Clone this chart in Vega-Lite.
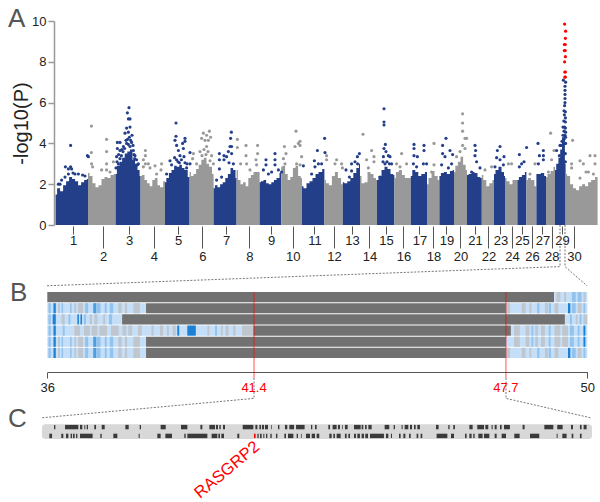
{"$schema":"https://vega.github.io/schema/vega-lite/v6.json","width":600,"height":502,"padding":0,"autosize":{"type":"none"},"background":"white","config":{"view":{"stroke":null},"font":"Liberation Sans"},
"datasets":{
"env":[
{"c":1,"g":"b","pos":3,"p":1.5},{"c":1,"g":"b","pos":18,"p":1.8},{"c":1,"g":"b","pos":33,"p":1.65},{"c":1,"g":"b","pos":48,"p":1.95},{"c":1,"g":"b","pos":63,"p":2.15},{"c":1,"g":"b","pos":78,"p":2.35},{"c":1,"g":"b","pos":93,"p":2.25},{"c":1,"g":"b","pos":108,"p":2.15},{"c":1,"g":"b","pos":123,"p":1.95},{"c":1,"g":"b","pos":138,"p":2.1},{"c":1,"g":"b","pos":153,"p":2.2},{"c":1,"g":"b","pos":165,"p":2.25},
{"c":2,"g":"a","pos":165,"p":2.55},{"c":2,"g":"a","pos":180,"p":2.4},{"c":2,"g":"a","pos":195,"p":2.05},{"c":2,"g":"a","pos":210,"p":1.85},{"c":2,"g":"a","pos":225,"p":1.95},{"c":2,"g":"a","pos":240,"p":2.25},{"c":2,"g":"a","pos":255,"p":2.35},{"c":2,"g":"a","pos":270,"p":2.3},{"c":2,"g":"a","pos":285,"p":2.45},{"c":2,"g":"a","pos":303,"p":2.5},
{"c":3,"g":"b","pos":303,"p":2.5},{"c":3,"g":"b","pos":316,"p":2.9},{"c":3,"g":"b","pos":329,"p":3.1},{"c":3,"g":"b","pos":342,"p":3.3},{"c":3,"g":"b","pos":355,"p":3.5},{"c":3,"g":"b","pos":368,"p":3.6},{"c":3,"g":"b","pos":381,"p":3.7},{"c":3,"g":"b","pos":394,"p":3.2},{"c":3,"g":"b","pos":407,"p":3.0},{"c":3,"g":"b","pos":418,"p":2.7},{"c":3,"g":"b","pos":428,"p":2.4},
{"c":4,"g":"a","pos":428,"p":2.4},{"c":4,"g":"a","pos":441,"p":2.45},{"c":4,"g":"a","pos":454,"p":2.2},{"c":4,"g":"a","pos":467,"p":2.05},{"c":4,"g":"a","pos":480,"p":1.9},{"c":4,"g":"a","pos":493,"p":2.2},{"c":4,"g":"a","pos":506,"p":2.3},{"c":4,"g":"a","pos":519,"p":1.95},{"c":4,"g":"a","pos":532,"p":1.85},{"c":4,"g":"a","pos":550,"p":2.15},
{"c":5,"g":"b","pos":550,"p":2.1},{"c":5,"g":"b","pos":563,"p":2.3},{"c":5,"g":"b","pos":576,"p":2.55},{"c":5,"g":"b","pos":589,"p":2.7},{"c":5,"g":"b","pos":602,"p":2.9},{"c":5,"g":"b","pos":615,"p":2.85},{"c":5,"g":"b","pos":628,"p":2.95},{"c":5,"g":"b","pos":641,"p":2.8},{"c":5,"g":"b","pos":654,"p":2.7},{"c":5,"g":"b","pos":673,"p":2.35},
{"c":6,"g":"a","pos":673,"p":2.6},{"c":6,"g":"a","pos":686,"p":2.4},{"c":6,"g":"a","pos":699,"p":2.5},{"c":6,"g":"a","pos":712,"p":2.75},{"c":6,"g":"a","pos":725,"p":2.95},{"c":6,"g":"a","pos":738,"p":3.2},{"c":6,"g":"a","pos":751,"p":3.3},{"c":6,"g":"a","pos":764,"p":3.0},{"c":6,"g":"a","pos":777,"p":2.85},{"c":6,"g":"a","pos":793,"p":2.5},
{"c":7,"g":"b","pos":793,"p":1.8},{"c":7,"g":"b","pos":806,"p":1.95},{"c":7,"g":"b","pos":819,"p":1.85},{"c":7,"g":"b","pos":832,"p":2.0},{"c":7,"g":"b","pos":845,"p":2.1},{"c":7,"g":"b","pos":858,"p":2.3},{"c":7,"g":"b","pos":871,"p":2.5},{"c":7,"g":"b","pos":884,"p":2.8},{"c":7,"g":"b","pos":897,"p":2.7},{"c":7,"g":"b","pos":908,"p":2.3},
{"c":8,"g":"a","pos":908,"p":2.7},{"c":8,"g":"a","pos":921,"p":2.2},{"c":8,"g":"a","pos":934,"p":2.0},{"c":8,"g":"a","pos":947,"p":2.1},{"c":8,"g":"a","pos":960,"p":1.9},{"c":8,"g":"a","pos":973,"p":2.3},{"c":8,"g":"a","pos":986,"p":2.45},{"c":8,"g":"a","pos":999,"p":2.6},{"c":8,"g":"a","pos":1012,"p":2.6},{"c":8,"g":"a","pos":1023,"p":2.6},
{"c":9,"g":"b","pos":1023,"p":2.1},{"c":9,"g":"b","pos":1036,"p":2.15},{"c":9,"g":"b","pos":1049,"p":2.2},{"c":9,"g":"b","pos":1062,"p":2.05},{"c":9,"g":"b","pos":1075,"p":2.0},{"c":9,"g":"b","pos":1088,"p":2.1},{"c":9,"g":"b","pos":1101,"p":2.2},{"c":9,"g":"b","pos":1114,"p":2.3},{"c":9,"g":"b","pos":1131,"p":2.55},
{"c":10,"g":"a","pos":1131,"p":2.85},{"c":10,"g":"a","pos":1144,"p":2.9},{"c":10,"g":"a","pos":1157,"p":2.5},{"c":10,"g":"a","pos":1170,"p":2.2},{"c":10,"g":"a","pos":1183,"p":2.35},{"c":10,"g":"a","pos":1196,"p":2.8},{"c":10,"g":"a","pos":1209,"p":2.9},{"c":10,"g":"a","pos":1222,"p":2.4},{"c":10,"g":"a","pos":1235,"p":2.3},
{"c":11,"g":"b","pos":1235,"p":1.9},{"c":11,"g":"b","pos":1250,"p":1.8},{"c":11,"g":"b","pos":1265,"p":2.05},{"c":11,"g":"b","pos":1280,"p":2.15},{"c":11,"g":"b","pos":1295,"p":2.3},{"c":11,"g":"b","pos":1310,"p":2.5},{"c":11,"g":"b","pos":1325,"p":2.6},{"c":11,"g":"b","pos":1347,"p":2.75},
{"c":12,"g":"a","pos":1347,"p":2.2},{"c":12,"g":"a","pos":1362,"p":2.05},{"c":12,"g":"a","pos":1377,"p":1.95},{"c":12,"g":"a","pos":1392,"p":2.4},{"c":12,"g":"a","pos":1407,"p":2.6},{"c":12,"g":"a","pos":1422,"p":2.3},{"c":12,"g":"a","pos":1439,"p":2.0},
{"c":13,"g":"b","pos":1439,"p":2.1},{"c":13,"g":"b","pos":1454,"p":2.05},{"c":13,"g":"b","pos":1469,"p":2.15},{"c":13,"g":"b","pos":1484,"p":2.3},{"c":13,"g":"b","pos":1499,"p":2.55},{"c":13,"g":"b","pos":1514,"p":2.8},{"c":13,"g":"b","pos":1525,"p":3.0},
{"c":14,"g":"a","pos":1525,"p":2.4},{"c":14,"g":"a","pos":1540,"p":2.05},{"c":14,"g":"a","pos":1555,"p":2.1},{"c":14,"g":"a","pos":1570,"p":2.6},{"c":14,"g":"a","pos":1585,"p":2.5},{"c":14,"g":"a","pos":1600,"p":2.3},{"c":14,"g":"a","pos":1610,"p":2.2},
{"c":15,"g":"b","pos":1610,"p":2.2},{"c":15,"g":"b","pos":1625,"p":2.4},{"c":15,"g":"b","pos":1640,"p":2.7},{"c":15,"g":"b","pos":1655,"p":2.85},{"c":15,"g":"b","pos":1670,"p":2.75},{"c":15,"g":"b","pos":1685,"p":2.5},{"c":15,"g":"b","pos":1697,"p":2.45},
{"c":16,"g":"a","pos":1697,"p":2.3},{"c":16,"g":"a","pos":1712,"p":2.6},{"c":16,"g":"a","pos":1727,"p":2.7},{"c":16,"g":"a","pos":1742,"p":2.45},{"c":16,"g":"a","pos":1757,"p":2.3},{"c":16,"g":"a","pos":1779,"p":2.3},
{"c":17,"g":"b","pos":1779,"p":2.4},{"c":17,"g":"b","pos":1794,"p":2.7},{"c":17,"g":"b","pos":1809,"p":2.6},{"c":17,"g":"b","pos":1824,"p":2.4},{"c":17,"g":"b","pos":1839,"p":2.5},{"c":17,"g":"b","pos":1860,"p":2.6},
{"c":18,"g":"a","pos":1860,"p":2.0},{"c":18,"g":"a","pos":1875,"p":2.3},{"c":18,"g":"a","pos":1890,"p":2.65},{"c":18,"g":"a","pos":1905,"p":2.4},{"c":18,"g":"a","pos":1922,"p":2.2},
{"c":19,"g":"b","pos":1922,"p":2.4},{"c":19,"g":"b","pos":1937,"p":2.55},{"c":19,"g":"b","pos":1952,"p":2.6},{"c":19,"g":"b","pos":1967,"p":2.5},{"c":19,"g":"b","pos":1982,"p":2.65},{"c":19,"g":"b","pos":1995,"p":2.7},
{"c":20,"g":"a","pos":1995,"p":2.6},{"c":20,"g":"a","pos":2008,"p":2.9},{"c":20,"g":"a","pos":2021,"p":3.1},{"c":20,"g":"a","pos":2034,"p":3.35},{"c":20,"g":"a","pos":2047,"p":2.95},{"c":20,"g":"a","pos":2060,"p":2.7},
{"c":21,"g":"b","pos":2060,"p":2.45},{"c":21,"g":"b","pos":2075,"p":2.5},{"c":21,"g":"b","pos":2090,"p":2.6},{"c":21,"g":"b","pos":2105,"p":2.55},{"c":21,"g":"b","pos":2120,"p":2.35},{"c":21,"g":"b","pos":2134,"p":2.3},
{"c":22,"g":"a","pos":2134,"p":2.45},{"c":22,"g":"a","pos":2149,"p":2.2},{"c":22,"g":"a","pos":2164,"p":1.9},{"c":22,"g":"a","pos":2179,"p":2.05},{"c":22,"g":"a","pos":2195,"p":2.2},
{"c":23,"g":"b","pos":2195,"p":2.5},{"c":23,"g":"b","pos":2210,"p":2.7},{"c":23,"g":"b","pos":2225,"p":2.85},{"c":23,"g":"b","pos":2240,"p":2.6},{"c":23,"g":"b","pos":2250,"p":2.4},
{"c":24,"g":"a","pos":2250,"p":2.3},{"c":24,"g":"a","pos":2265,"p":2.15},{"c":24,"g":"a","pos":2280,"p":2.0},{"c":24,"g":"a","pos":2295,"p":2.2},{"c":24,"g":"a","pos":2312,"p":2.2},
{"c":25,"g":"b","pos":2312,"p":2.2},{"c":25,"g":"b","pos":2327,"p":2.35},{"c":25,"g":"b","pos":2342,"p":2.45},{"c":25,"g":"b","pos":2357,"p":2.6},
{"c":26,"g":"a","pos":2357,"p":2.2},{"c":26,"g":"a","pos":2372,"p":2.3},{"c":26,"g":"a","pos":2387,"p":2.2},{"c":26,"g":"a","pos":2407,"p":1.9},
{"c":27,"g":"b","pos":2407,"p":2.5},{"c":27,"g":"b","pos":2422,"p":2.5},{"c":27,"g":"b","pos":2437,"p":2.55},{"c":27,"g":"b","pos":2455,"p":2.4},
{"c":28,"g":"a","pos":2455,"p":2.35},{"c":28,"g":"a","pos":2470,"p":2.5},{"c":28,"g":"a","pos":2485,"p":2.65},{"c":28,"g":"a","pos":2500,"p":2.85},
{"c":29,"g":"b","pos":2500,"p":2.7},{"c":29,"g":"b","pos":2512,"p":3.0},{"c":29,"g":"b","pos":2522,"p":3.3},{"c":29,"g":"b","pos":2530,"p":3.7},{"c":29,"g":"b","pos":2540,"p":4.3},{"c":29,"g":"b","pos":2546,"p":4.4},{"c":29,"g":"b","pos":2553,"p":3.0},
{"c":30,"g":"a","pos":2553,"p":2.5},{"c":30,"g":"a","pos":2568,"p":2.4},{"c":30,"g":"a","pos":2583,"p":2.0},{"c":30,"g":"a","pos":2598,"p":1.8},{"c":30,"g":"a","pos":2613,"p":1.7},{"c":30,"g":"a","pos":2628,"p":1.9},{"c":30,"g":"a","pos":2643,"p":2.0},{"c":30,"g":"a","pos":2658,"p":1.9},{"c":30,"g":"a","pos":2673,"p":2.1},{"c":30,"g":"a","pos":2688,"p":2.2},{"c":30,"g":"a","pos":2713,"p":2.35}
],
"pts":[
{"g":"b","pos":78,"p":3.9},{"g":"b","pos":52,"p":2.85},{"g":"b","pos":78,"p":2.85},{"g":"b","pos":67,"p":2.5},{"g":"b","pos":100,"p":2.5},{"g":"b","pos":117,"p":2.5},{"g":"b","pos":138,"p":2.45},{"g":"b","pos":162,"p":3.4},{"g":"b","pos":167,"p":3.35},{"g":"b","pos":33,"p":2.2},{"g":"b","pos":50,"p":2.35},{"g":"b","pos":17,"p":2.0},{"g":"b","pos":25,"p":2.0},{"g":"b","pos":83,"p":2.75},{"g":"b","pos":67,"p":2.75},{"g":"b","pos":90,"p":2.55},{"g":"b","pos":150,"p":2.4},
{"g":"a","pos":182,"p":4.85},{"g":"a","pos":182,"p":3.55},{"g":"a","pos":258,"p":4.2},{"g":"a","pos":258,"p":3.6},{"g":"a","pos":183,"p":3.0},{"g":"a","pos":188,"p":2.85},{"g":"a","pos":258,"p":3.0},{"g":"a","pos":292,"p":3.1},{"g":"a","pos":233,"p":2.7},{"g":"a","pos":258,"p":2.7},{"g":"a","pos":275,"p":2.6},
{"g":"b","pos":370,"p":5.75},{"g":"b","pos":362,"p":5.5},{"g":"b","pos":367,"p":5.2},{"g":"b","pos":375,"p":5.2},{"g":"b","pos":358,"p":4.75},{"g":"b","pos":375,"p":4.8},{"g":"b","pos":367,"p":4.55},{"g":"b","pos":350,"p":4.5},{"g":"b","pos":312,"p":4.05},{"g":"b","pos":325,"p":4.05},{"g":"b","pos":355,"p":4.15},{"g":"b","pos":383,"p":4.05},{"g":"b","pos":372,"p":4.3},{"g":"b","pos":312,"p":3.75},{"g":"b","pos":325,"p":3.65},{"g":"b","pos":342,"p":3.85},{"g":"b","pos":358,"p":4},{"g":"b","pos":375,"p":3.85},{"g":"b","pos":392,"p":3.65},{"g":"b","pos":400,"p":3.4},{"g":"b","pos":308,"p":3.35},{"g":"b","pos":325,"p":3.25},{"g":"b","pos":408,"p":3.2},{"g":"b","pos":417,"p":3.0},{"g":"b","pos":317,"p":3.0},{"g":"b","pos":340,"p":3.6},{"g":"b","pos":367,"p":3.95},{"g":"b","pos":385,"p":4.4},{"g":"b","pos":395,"p":3.45},{"g":"b","pos":310,"p":3.1},{"g":"b","pos":318,"p":3.45},{"g":"b","pos":332,"p":3.4},{"g":"b","pos":348,"p":3.75},{"g":"b","pos":363,"p":4.2},{"g":"b","pos":378,"p":4.15},{"g":"b","pos":390,"p":3.9},{"g":"b","pos":398,"p":3.25},{"g":"b","pos":305,"p":2.8},{"g":"b","pos":412,"p":2.95},{"g":"b","pos":334,"p":3.7},
{"g":"a","pos":452,"p":3.65},{"g":"a","pos":452,"p":3.4},{"g":"a","pos":442,"p":3.2},{"g":"a","pos":452,"p":3.0},{"g":"a","pos":467,"p":3.0},{"g":"a","pos":500,"p":2.9},{"g":"a","pos":533,"p":3.0},{"g":"a","pos":530,"p":2.7},{"g":"a","pos":442,"p":2.85},{"g":"a","pos":475,"p":2.8},{"g":"a","pos":508,"p":2.5},
{"g":"b","pos":605,"p":5.0},{"g":"b","pos":605,"p":4.35},{"g":"b","pos":650,"p":4.25},{"g":"b","pos":600,"p":4.15},{"g":"b","pos":608,"p":3.9},{"g":"b","pos":638,"p":4},{"g":"b","pos":650,"p":4.1},{"g":"b","pos":617,"p":3.65},{"g":"b","pos":642,"p":3.75},{"g":"b","pos":625,"p":3.4},{"g":"b","pos":675,"p":3.55},{"g":"b","pos":645,"p":3.35},{"g":"b","pos":575,"p":3.15},{"g":"b","pos":583,"p":2.95},{"g":"b","pos":675,"p":3},{"g":"b","pos":558,"p":2.5},{"g":"b","pos":658,"p":2.8},{"g":"b","pos":608,"p":3.2},{"g":"b","pos":598,"p":3.3},{"g":"b","pos":632,"p":3.2},{"g":"b","pos":615,"p":3.1},{"g":"b","pos":650,"p":3.05},{"g":"b","pos":660,"p":3.0},{"g":"b","pos":622,"p":3.05},
{"g":"a","pos":772,"p":4.6},{"g":"a","pos":742,"p":4.5},{"g":"a","pos":758,"p":4.4},{"g":"a","pos":733,"p":4.25},{"g":"a","pos":778,"p":4.3},{"g":"a","pos":750,"p":4.15},{"g":"a","pos":767,"p":4.15},{"g":"a","pos":758,"p":3.85},{"g":"a","pos":725,"p":3.6},{"g":"a","pos":692,"p":3.5},{"g":"a","pos":688,"p":3.25},{"g":"a","pos":708,"p":3.0},{"g":"a","pos":783,"p":3.4},{"g":"a","pos":792,"p":3},{"g":"a","pos":745,"p":3.7},{"g":"a","pos":765,"p":3.6},{"g":"a","pos":755,"p":3.45},{"g":"a","pos":735,"p":3.4},{"g":"a","pos":775,"p":3.15},
{"g":"b","pos":882,"p":4.55},{"g":"b","pos":878,"p":4.25},{"g":"b","pos":822,"p":3.5},{"g":"b","pos":845,"p":3.4},{"g":"b","pos":875,"p":3.85},{"g":"b","pos":867,"p":3.6},{"g":"b","pos":883,"p":3.85},{"g":"b","pos":822,"p":3.2},{"g":"b","pos":822,"p":2.75},{"g":"b","pos":845,"p":3.2},{"g":"b","pos":858,"p":3.35},{"g":"b","pos":883,"p":3.5},{"g":"b","pos":892,"p":3},{"g":"b","pos":808,"p":2.2},{"g":"b","pos":833,"p":2.35},{"g":"b","pos":870,"p":3.05},
{"g":"a","pos":912,"p":4.2},{"g":"a","pos":912,"p":3.8},{"g":"a","pos":955,"p":3.9},{"g":"a","pos":955,"p":3.4},{"g":"a","pos":1013,"p":3.9},{"g":"a","pos":1013,"p":3.5},{"g":"a","pos":1005,"p":3.2},{"g":"a","pos":958,"p":3.0},{"g":"a","pos":928,"p":3.0},{"g":"a","pos":1008,"p":2.95},{"g":"a","pos":975,"p":2.7},
{"g":"b","pos":1100,"p":3.5},{"g":"b","pos":1100,"p":3.2},{"g":"b","pos":1055,"p":3.2},{"g":"b","pos":1055,"p":2.95},{"g":"b","pos":1083,"p":2.6},{"g":"b","pos":1042,"p":2.7},{"g":"b","pos":1133,"p":2.6},{"g":"b","pos":1117,"p":2.7},{"g":"b","pos":1067,"p":2.5},{"g":"b","pos":1100,"p":2.95},
{"g":"a","pos":1205,"p":4.6},{"g":"a","pos":1217,"p":4},{"g":"a","pos":1147,"p":3.85},{"g":"a","pos":1155,"p":3.5},{"g":"a","pos":1142,"p":3.25},{"g":"a","pos":1150,"p":3},{"g":"a","pos":1200,"p":3.85},{"g":"a","pos":1208,"p":3},{"g":"a","pos":1225,"p":2.95},{"g":"a","pos":1225,"p":4.1},{"g":"a","pos":1225,"p":3.9},{"g":"a","pos":1233,"p":3.35},
{"g":"b","pos":1348,"p":4.25},{"g":"b","pos":1312,"p":3.65},{"g":"b","pos":1350,"p":3.55},{"g":"b","pos":1297,"p":3.15},{"g":"b","pos":1242,"p":2.9},{"g":"b","pos":1333,"p":3},{"g":"b","pos":1317,"p":3},{"g":"b","pos":1300,"p":2.85},{"g":"b","pos":1283,"p":2.5},
{"g":"a","pos":1408,"p":3.2},{"g":"a","pos":1400,"p":3.0},{"g":"a","pos":1433,"p":3},{"g":"a","pos":1437,"p":2.8},{"g":"a","pos":1358,"p":3.4},{"g":"a","pos":1358,"p":3.2},
{"g":"b","pos":1522,"p":3.5},{"g":"b","pos":1512,"p":3.35},{"g":"b","pos":1500,"p":3.1},{"g":"b","pos":1483,"p":3},{"g":"b","pos":1455,"p":2.7},{"g":"b","pos":1483,"p":2.65},{"g":"b","pos":1513,"p":3.0},{"g":"b","pos":1472,"p":2.35},
{"g":"a","pos":1540,"p":4.45},{"g":"a","pos":1583,"p":3.65},{"g":"a","pos":1595,"p":3.35},{"g":"a","pos":1558,"p":3.2},{"g":"a","pos":1567,"p":2.8},{"g":"a","pos":1595,"p":3.1},
{"g":"b","pos":1645,"p":5.7},{"g":"b","pos":1645,"p":5.05},{"g":"b","pos":1645,"p":4.9},{"g":"b","pos":1652,"p":3.95},{"g":"b","pos":1645,"p":3.75},{"g":"b","pos":1655,"p":3.6},{"g":"b","pos":1667,"p":3.4},{"g":"b","pos":1642,"p":3.35},{"g":"b","pos":1675,"p":3.35},{"g":"b","pos":1650,"p":3},{"g":"b","pos":1672,"p":3},{"g":"b","pos":1683,"p":3},{"g":"b","pos":1625,"p":2.35},{"g":"b","pos":1660,"p":3.1},{"g":"b","pos":1640,"p":3.1},
{"g":"a","pos":1733,"p":3.5},{"g":"a","pos":1708,"p":3},{"g":"a","pos":1725,"p":2.85},{"g":"a","pos":1758,"p":3},
{"g":"b","pos":1795,"p":3.95},{"g":"b","pos":1795,"p":3.75},{"g":"b","pos":1845,"p":3.9},{"g":"b","pos":1845,"p":3.65},{"g":"b","pos":1812,"p":3.35},{"g":"b","pos":1795,"p":3.4},{"g":"b","pos":1842,"p":3},{"g":"b","pos":1792,"p":3},{"g":"b","pos":1858,"p":3},{"g":"b","pos":1808,"p":2.85},
{"g":"a","pos":1895,"p":4.0},{"g":"a","pos":1895,"p":2.95},{"g":"a","pos":1883,"p":2.6},
{"g":"b","pos":1955,"p":4.25},{"g":"b","pos":1938,"p":3.9},{"g":"b","pos":1975,"p":3.65},{"g":"b","pos":1938,"p":3.5},{"g":"b","pos":1988,"p":3.45},{"g":"b","pos":1950,"p":3.35},{"g":"b","pos":1933,"p":2.95},{"g":"b","pos":1983,"p":3},{"g":"b","pos":1967,"p":2.8},
{"g":"a","pos":2038,"p":5.45},{"g":"a","pos":2038,"p":5},{"g":"a","pos":2038,"p":4.6},{"g":"a","pos":2058,"p":4.25},{"g":"a","pos":2050,"p":4.25},{"g":"a","pos":2038,"p":3.9},{"g":"a","pos":2050,"p":3.75},{"g":"a","pos":2025,"p":3.6},{"g":"a","pos":2008,"p":3.35},
{"g":"b","pos":2100,"p":3.9},{"g":"b","pos":2103,"p":3.65},{"g":"b","pos":2100,"p":3.4},{"g":"b","pos":2108,"p":3.1},{"g":"b","pos":2083,"p":2.6},{"g":"b","pos":2125,"p":2.8},
{"g":"a","pos":2150,"p":2.7},{"g":"a","pos":2183,"p":2.85},
{"g":"b","pos":2225,"p":3.85},{"g":"b","pos":2212,"p":3.65},{"g":"b","pos":2208,"p":3.3},{"g":"b","pos":2245,"p":3.35},{"g":"b","pos":2225,"p":3.2},{"g":"b","pos":2200,"p":2.85},{"g":"b","pos":2242,"p":2.95},
{"g":"a","pos":2267,"p":3},{"g":"a","pos":2283,"p":3},
{"g":"b","pos":2358,"p":3.8},{"g":"b","pos":2322,"p":3.45},{"g":"b","pos":2333,"p":3},{"g":"b","pos":2345,"p":3.1},{"g":"b","pos":2322,"p":2.85},
{"g":"a","pos":2400,"p":3},{"g":"a","pos":2375,"p":2.5},
{"g":"b","pos":2415,"p":4},{"g":"b","pos":2442,"p":3.65},{"g":"b","pos":2442,"p":3.4},{"g":"b","pos":2422,"p":3.4},{"g":"b","pos":2417,"p":3},{"g":"b","pos":2442,"p":3.2},
{"g":"a","pos":2478,"p":4.5},{"g":"a","pos":2495,"p":3.65},{"g":"a","pos":2483,"p":3.2},{"g":"a","pos":2467,"p":2.6},
{"g":"a","pos":2588,"p":4.15},{"g":"a","pos":2625,"p":3.15},{"g":"a","pos":2675,"p":3.4},{"g":"a","pos":2700,"p":3.4},{"g":"a","pos":2642,"p":3},{"g":"a","pos":2655,"p":2.6},{"g":"a","pos":2700,"p":3},{"g":"a","pos":2667,"p":2.6},{"g":"a","pos":2583,"p":3.0},{"g":"a","pos":2583,"p":2.8},{"g":"a","pos":2625,"p":2.3},{"g":"a","pos":2692,"p":2.5},
{"g":"b","pos":2542,"p":7.1},{"g":"b","pos":2553,"p":7.0},{"g":"b","pos":2550,"p":6.8},{"g":"b","pos":2550,"p":6.6},{"g":"b","pos":2550,"p":6.4},{"g":"b","pos":2550,"p":6.2},{"g":"b","pos":2550,"p":6.0},{"g":"b","pos":2548,"p":5.85},{"g":"b","pos":2545,"p":5.6},{"g":"b","pos":2552,"p":5.55},{"g":"b","pos":2547,"p":5.4},{"g":"b","pos":2552,"p":5.25},{"g":"b","pos":2544,"p":5.1},{"g":"b","pos":2552,"p":5.05},{"g":"b","pos":2540,"p":4.8},{"g":"b","pos":2548,"p":4.8},{"g":"b","pos":2552,"p":4.75},{"g":"b","pos":2545,"p":4.6},{"g":"b","pos":2553,"p":4.55},{"g":"b","pos":2540,"p":4.4},{"g":"b","pos":2550,"p":4.4},{"g":"b","pos":2545,"p":4.2},{"g":"b","pos":2535,"p":4.1},{"g":"b","pos":2553,"p":4.3},{"g":"b","pos":2530,"p":3.9},{"g":"b","pos":2548,"p":4},{"g":"b","pos":2553,"p":4},{"g":"b","pos":2525,"p":3.9},{"g":"b","pos":2508,"p":3.65},{"g":"b","pos":2522,"p":3.4},{"g":"b","pos":2540,"p":3.6},{"g":"b","pos":2552,"p":3.5},{"g":"b","pos":2552,"p":3.1},
{"g":"r","pos":2548,"p":9.85},{"g":"r","pos":2553,"p":9.5},{"g":"r","pos":2552,"p":9.15},{"g":"r","pos":2547,"p":8.85},{"g":"r","pos":2551,"p":8.85},{"g":"r","pos":2547,"p":8.55},{"g":"r","pos":2551,"p":8.55},{"g":"r","pos":2552,"p":8.25},{"g":"r","pos":2548,"p":8.0},{"g":"r","pos":2549,"p":7.5},{"g":"r","pos":2552,"p":7.5},{"g":"r","pos":2549,"p":7.25},{"g":"r","pos":2552,"p":7.25}
],
"links":[
{"k":"a1","o":1,"x":2525,"y":0},{"k":"a1","o":2,"x":2525,"y":-2.04},{"k":"a1","o":3,"x":-40,"y":-2.98},
{"k":"a2","o":1,"x":2550,"y":0},{"k":"a2","o":2,"x":2550,"y":-2.04},{"k":"a2","o":3,"x":2660,"y":-2.98},
{"k":"b1","o":1,"x":995,"y":-7.5},{"k":"b1","o":2,"x":995,"y":-8.5},{"k":"b1","o":3,"x":-65,"y":-9.45},
{"k":"b2","o":1,"x":2255,"y":-7.5},{"k":"b2","o":2,"x":2255,"y":-8.5},{"k":"b2","o":3,"x":2678,"y":-9.45}
],
"letters":[{"t":"A","x":-235,"y":9.7},{"t":"B","x":-225,"y":-3.73},{"t":"C","x":-235,"y":-9.9}],
"cells":[
{"r":[1],"a":36,"b":49.14,"c":"d"},{"r":[1],"a":49.14,"b":50,"c":"l"},
{"r":[2],"a":36,"b":38.56,"c":"l"},{"r":[2],"a":38.56,"b":47.89,"c":"d"},{"r":[2],"a":47.89,"b":50,"c":"l"},
{"r":[3],"a":36,"b":37.94,"c":"l"},{"r":[3],"a":37.94,"b":49.42,"c":"d"},{"r":[3],"a":49.42,"b":50,"c":"l"},
{"r":[4],"a":36,"b":41.34,"c":"l"},{"r":[4],"a":41.34,"b":48.02,"c":"d"},{"r":[4],"a":48.02,"b":50,"c":"l"},
{"r":[5],"a":36,"b":38.56,"c":"l"},{"r":[5],"a":38.56,"b":47.89,"c":"d"},{"r":[5],"a":47.89,"b":50,"c":"l"},
{"r":[6],"a":36,"b":38.56,"c":"l"},{"r":[6],"a":38.56,"b":47.89,"c":"d"},{"r":[6],"a":47.89,"b":50,"c":"l"},
{"r":[2,5,6],"a":36.03,"b":36.09,"c":"m"},{"r":[2,5,6],"a":36.16,"b":36.22,"c":"s"},{"r":[2,5,6],"a":36.28,"b":36.33,"c":"g"},{"r":[2,5,6],"a":36.37,"b":36.41,"c":"m"},{"r":[2,5,6],"a":36.59,"b":36.63,"c":"m"},{"r":[2,5,6],"a":36.7,"b":36.75,"c":"g"},{"r":[2,5,6],"a":36.8,"b":36.93,"c":"g"},{"r":[2,5,6],"a":36.98,"b":37.06,"c":"m"},{"r":[2,5,6],"a":37.19,"b":37.27,"c":"n"},{"r":[2,5,6],"a":37.27,"b":37.38,"c":"m"},{"r":[2,5,6],"a":37.49,"b":37.54,"c":"m"},{"r":[2,5,6],"a":37.62,"b":37.71,"c":"m"},{"r":[2,5,6],"a":37.84,"b":37.93,"c":"g"},{"r":[2,5,6],"a":38.01,"b":38.07,"c":"g"},{"r":[2,5,6],"a":38.23,"b":38.4,"c":"g"},
{"r":[3],"a":36.03,"b":36.09,"c":"m"},{"r":[3],"a":36.14,"b":36.22,"c":"s"},{"r":[3],"a":36.37,"b":36.45,"c":"g"},{"r":[3],"a":36.55,"b":36.6,"c":"m"},{"r":[3],"a":36.78,"b":36.82,"c":"s"},{"r":[3],"a":36.86,"b":36.9,"c":"s"},{"r":[3],"a":36.95,"b":37.0,"c":"m"},{"r":[3],"a":37.1,"b":37.16,"c":"g"},{"r":[3],"a":37.22,"b":37.3,"c":"g"},{"r":[3],"a":37.45,"b":37.5,"c":"g"},{"r":[3],"a":37.6,"b":37.68,"c":"m"},
{"r":[4],"a":36.03,"b":36.09,"c":"m"},{"r":[4],"a":36.16,"b":36.22,"c":"s"},{"r":[4],"a":36.4,"b":36.45,"c":"m"},{"r":[4],"a":36.7,"b":36.85,"c":"g"},{"r":[4],"a":36.95,"b":37.1,"c":"g"},{"r":[4],"a":37.15,"b":37.3,"c":"g"},{"r":[4],"a":37.35,"b":37.55,"c":"g"},{"r":[4],"a":37.65,"b":37.85,"c":"g"},{"r":[4],"a":37.95,"b":38.05,"c":"g"},{"r":[4],"a":38.1,"b":38.2,"c":"g"},{"r":[4],"a":38.35,"b":38.45,"c":"g"},{"r":[4],"a":38.7,"b":38.76,"c":"g"},{"r":[4],"a":38.92,"b":39.0,"c":"g"},{"r":[4],"a":39.1,"b":39.15,"c":"g"},{"r":[4],"a":39.25,"b":39.33,"c":"g"},{"r":[4],"a":39.37,"b":39.42,"c":"s"},{"r":[4],"a":39.63,"b":39.85,"c":"s"},{"r":[4],"a":40.15,"b":40.2,"c":"g"},{"r":[4],"a":40.35,"b":40.4,"c":"m"},{"r":[4],"a":40.5,"b":40.55,"c":"g"},{"r":[4],"a":40.62,"b":40.7,"c":"g"},{"r":[4],"a":40.82,"b":40.88,"c":"g"},{"r":[4],"a":41.05,"b":41.34,"c":"g"},
{"r":[2,6],"a":47.89,"b":48.0,"c":"g"},{"r":[2,6],"a":48.3,"b":48.4,"c":"g"},{"r":[2,6],"a":48.5,"b":48.55,"c":"g"},{"r":[2,6],"a":48.7,"b":48.76,"c":"m"},{"r":[2,6],"a":48.9,"b":48.98,"c":"g"},{"r":[2,6],"a":49.0,"b":49.06,"c":"m"},{"r":[2,6],"a":49.15,"b":49.25,"c":"g"},{"r":[2,6],"a":49.5,"b":49.56,"c":"s"},{"r":[2,6],"a":49.6,"b":49.7,"c":"m"},{"r":[2,6],"a":49.75,"b":49.85,"c":"g"},{"r":[2,6],"a":49.9,"b":49.95,"c":"m"},
{"r":[4,5],"a":48.1,"b":48.25,"c":"g"},{"r":[4,5],"a":48.4,"b":48.5,"c":"g"},{"r":[4,5],"a":48.55,"b":48.6,"c":"m"},{"r":[4,5],"a":48.65,"b":48.72,"c":"g"},{"r":[4,5],"a":48.8,"b":48.9,"c":"g"},{"r":[4,5],"a":49.0,"b":49.05,"c":"m"},{"r":[4,5],"a":49.15,"b":49.3,"c":"g"},{"r":[4,5],"a":49.35,"b":49.5,"c":"g"},{"r":[4,5],"a":49.55,"b":49.65,"c":"m"},{"r":[4,5],"a":49.75,"b":49.8,"c":"m"},{"r":[4,5],"a":49.9,"b":49.95,"c":"s"},
{"r":[1],"a":49.2,"b":49.3,"c":"g"},{"r":[1],"a":49.4,"b":49.45,"c":"g"},{"r":[1],"a":49.6,"b":49.7,"c":"m"},{"r":[1],"a":49.75,"b":49.85,"c":"m"},{"r":[1],"a":49.9,"b":49.96,"c":"g"},
{"r":[3],"a":49.55,"b":49.6,"c":"m"},{"r":[3],"a":49.7,"b":49.75,"c":"g"},{"r":[3],"a":49.8,"b":49.85,"c":"m"},{"r":[3],"a":49.9,"b":50,"c":"g"}
],
"marks":[{"t":"41.4","m":41.36},{"t":"47.7","m":47.89}],
"genes":[
{"t":"u","s":41.538,"e":41.553},{"t":"u","s":41.664,"e":41.816},{"t":"u","s":41.835,"e":41.862},{"t":"u","s":41.885,"e":41.896},{"t":"u","s":41.912,"e":41.927},{"t":"u","s":41.999,"e":42.019},{"t":"u","s":42.084,"e":42.118},{"t":"u","s":42.355,"e":42.393},{"t":"u","s":42.519,"e":42.534},{"t":"u","s":42.759,"e":42.817},{"t":"u","s":42.992,"e":43.065},{"t":"u","s":43.214,"e":43.237},{"t":"u","s":43.317,"e":43.382},{"t":"u","s":43.393,"e":43.416},{"t":"u","s":43.431,"e":43.447},{"t":"u","s":43.473,"e":43.496},{"t":"u","s":43.699,"e":43.821},{"t":"u","s":43.844,"e":43.867},{"t":"u","s":43.89,"e":43.909},{"t":"u","s":43.92,"e":43.943},{"t":"u","s":43.954,"e":43.989},{"t":"u","s":44.023,"e":44.031},{"t":"u","s":44.103,"e":44.119},{"t":"u","s":44.183,"e":44.21},{"t":"u","s":44.233,"e":44.287},{"t":"u","s":44.31,"e":44.408},{"t":"u","s":44.481,"e":44.496},{"t":"u","s":44.527,"e":44.546},{"t":"u","s":44.68,"e":44.699},{"t":"u","s":44.729,"e":44.775},{"t":"u","s":44.79,"e":44.813},{"t":"u","s":44.836,"e":44.844},{"t":"u","s":44.87,"e":44.901},{"t":"u","s":44.974,"e":45.05},{"t":"u","s":45.061,"e":45.08},{"t":"u","s":45.1,"e":45.119},{"t":"u","s":45.138,"e":45.176},{"t":"u","s":45.325,"e":45.378},{"t":"u","s":45.428,"e":45.443},{"t":"u","s":45.519,"e":45.531},{"t":"u","s":45.554,"e":45.596},{"t":"u","s":45.615,"e":45.638},{"t":"u","s":45.661,"e":45.68},{"t":"u","s":45.699,"e":45.729},{"t":"u","s":45.913,"e":45.943},{"t":"u","s":46.054,"e":46.069},{"t":"u","s":46.111,"e":46.13},{"t":"u","s":46.295,"e":46.333},{"t":"u","s":46.386,"e":46.463},{"t":"u","s":46.478,"e":46.512},{"t":"u","s":46.55,"e":46.562},{"t":"u","s":46.585,"e":46.608},{"t":"u","s":46.646,"e":46.665},{"t":"u","s":46.692,"e":46.76},{"t":"u","s":46.905,"e":46.928},{"t":"u","s":47.154,"e":47.257},{"t":"u","s":47.302,"e":47.364},{"t":"u","s":47.459,"e":47.482},{"t":"u","s":47.562,"e":47.581},{"t":"u","s":47.604,"e":47.638},
{"t":"l","s":41.484,"e":41.515},{"t":"l","s":41.621,"e":41.644},{"t":"l","s":41.675,"e":41.702},{"t":"l","s":41.728,"e":41.744},{"t":"l","s":41.755,"e":41.774},{"t":"l","s":41.79,"e":41.805},{"t":"l","s":41.835,"e":41.98},{"t":"l","s":42.068,"e":42.084},{"t":"l","s":42.217,"e":42.263},{"t":"l","s":42.507,"e":42.519},{"t":"l","s":42.721,"e":42.759},{"t":"l","s":42.813,"e":42.889},{"t":"l","s":43.03,"e":43.046},{"t":"l","s":43.065,"e":43.294},{"t":"l","s":43.343,"e":43.408},{"t":"l","s":43.42,"e":43.439},{"t":"l","s":43.454,"e":43.485},{"t":"l","s":43.637,"e":43.66},{"t":"l","s":43.828,"e":43.847,"h":"RASGRP2"},{"t":"l","s":43.867,"e":43.882},{"t":"l","s":43.897,"e":43.916},{"t":"l","s":43.935,"e":43.947},{"t":"l","s":43.966,"e":43.981},{"t":"l","s":44.015,"e":44.031},{"t":"l","s":44.08,"e":44.096},{"t":"l","s":44.176,"e":44.195},{"t":"l","s":44.218,"e":44.279},{"t":"l","s":44.317,"e":44.332},{"t":"l","s":44.366,"e":44.374},{"t":"l","s":44.424,"e":44.47},{"t":"l","s":44.489,"e":44.527},{"t":"l","s":44.546,"e":44.576},{"t":"l","s":44.691,"e":44.718},{"t":"l","s":44.737,"e":44.756},{"t":"l","s":44.775,"e":44.821},{"t":"l","s":44.87,"e":44.89},{"t":"l","s":44.909,"e":44.928},{"t":"l","s":44.974,"e":44.996},{"t":"l","s":45.012,"e":45.042},{"t":"l","s":45.061,"e":45.088},{"t":"l","s":45.103,"e":45.134},{"t":"l","s":45.157,"e":45.317},{"t":"l","s":45.34,"e":45.367},{"t":"l","s":45.397,"e":45.409},{"t":"l","s":45.489,"e":45.508},{"t":"l","s":45.539,"e":45.562},{"t":"l","s":45.604,"e":45.623},{"t":"l","s":45.691,"e":45.71},{"t":"l","s":45.737,"e":45.756},{"t":"l","s":45.92,"e":46.043},{"t":"l","s":46.085,"e":46.119},{"t":"l","s":46.245,"e":46.264},{"t":"l","s":46.295,"e":46.321},{"t":"l","s":46.34,"e":46.356},{"t":"l","s":46.398,"e":46.447},{"t":"l","s":46.463,"e":46.524},{"t":"l","s":46.585,"e":46.608},{"t":"l","s":46.665,"e":46.715},{"t":"l","s":46.81,"e":46.871},{"t":"l","s":46.99,"e":47.096},{"t":"l","s":47.295,"e":47.306},{"t":"l","s":47.36,"e":47.409},{"t":"l","s":47.467,"e":47.486},{"t":"l","s":47.562,"e":47.581}
]
},
"layer":[
{"data":{"name":"env"},"mark":{"type":"area","interpolate":"step"},"encoding":{
"x":{"field":"pos","type":"quantitative","scale":{"domain":[0,2710],"range":[55,597],"nice":false,"zero":false},"axis":{"orient":"bottom","offset":-276,"title":null,"domain":false,"grid":false,"values":[90,370,615,855,1080,1297,1485,1655,1822,1957,2100,2227,2335,2437,2535],"labelExpr":"indexof([90,370,615,855,1080,1297,1485,1655,1822,1957,2100,2227,2335,2437,2535],datum.value)*2+1","tickSize":8,"tickColor":"#555","labelPadding":0,"labelFontSize":13,"labelColor":"#222","labelOverlap":false,"labelBound":false,"labelFlush":false}},
"y":{"field":"p","type":"quantitative","stack":null,"scale":{"domain":[0,10],"range":[225,21],"nice":false,"zero":true},"axis":{"orient":"left","offset":-54,"title":"-log10(P)","titleFontSize":20,"titleFontWeight":"normal","titleColor":"#222","titlePadding":0,"grid":false,"values":[0,2,4,6,8,10],"domainColor":"#999","domainWidth":1.5,"tickColor":"#999","tickWidth":1.5,"tickSize":6,"labelFontSize":13,"labelColor":"#222","labelPadding":2}},
"color":{"field":"g","type":"nominal","scale":{"domain":["b","a","r"],"range":["#243f8a","#999999","#ff0000"]},"legend":null},
"detail":{"field":"c","type":"nominal"}}},
{"data":{"name":"pts"},"mark":{"type":"circle","size":10,"opacity":1},"encoding":{
"x":{"field":"pos","type":"quantitative","scale":{"domain":[0,2710],"range":[55,597],"nice":false,"zero":false},"axis":{"orient":"bottom","offset":-276,"title":null,"domain":false,"grid":false,"values":[240,494,737,972,1189,1395,1572,1742,1892,2027,2167,2285,2385,2484,2595],"labelExpr":"indexof([240,494,737,972,1189,1395,1572,1742,1892,2027,2167,2285,2385,2484,2595],datum.value)*2+2","tickSize":22,"tickColor":"#555","labelPadding":2,"labelFontSize":13,"labelColor":"#222","labelOverlap":false,"labelBound":false,"labelFlush":false}},
"y":{"field":"p","type":"quantitative","scale":{"domain":[0,10],"range":[225,21],"nice":false,"zero":true},"axis":null},
"color":{"field":"g","type":"nominal","scale":{"domain":["b","a","r"],"range":["#243f8a","#999999","#ff0000"]},"legend":null}}},
{"data":{"name":"links"},"mark":{"type":"line","stroke":"#777","strokeWidth":1,"strokeDash":[2,1.5]},"encoding":{
"x":{"field":"x","type":"quantitative","scale":{"domain":[0,2710],"range":[55,597],"nice":false,"zero":false},"axis":null},
"y":{"field":"y","type":"quantitative","scale":{"domain":[0,10],"range":[225,21],"nice":false,"zero":false},"axis":null},
"detail":{"field":"k","type":"nominal"},"order":{"field":"o","type":"quantitative"}}},
{"data":{"name":"letters"},"mark":{"type":"text","fontSize":26,"align":"left","baseline":"alphabetic","color":"#555"},"encoding":{
"x":{"field":"x","type":"quantitative","scale":{"domain":[0,2710],"range":[55,597],"nice":false,"zero":false},"axis":null},
"y":{"field":"y","type":"quantitative","scale":{"domain":[0,10],"range":[225,21],"nice":false,"zero":false},"axis":null},
"text":{"field":"t","type":"nominal"}}},
{"data":{"name":"cells"},"transform":[{"flatten":["r"]}],"mark":{"type":"rect"},"encoding":{
"x":{"field":"a","type":"quantitative","scale":{"domain":[36,50],"range":[47.3,587.3],"nice":false,"zero":false},"axis":{"orient":"bottom","offset":-130,"title":null,"grid":false,"values":[36,50],"domainColor":"#555","tickColor":"#555","tickSize":6,"labelPadding":3,"labelFontSize":13,"labelColor":"#222","labelFlush":false,"labelBound":false,"labelOverlap":false}},
"x2":{"field":"b"},
"y":{"field":"r","type":"ordinal","scale":{"type":"band","domain":[1,2,3,4,5,6],"range":[292,358],"paddingInner":0.09,"paddingOuter":0},"axis":null},
"color":{"field":"c","type":"nominal","scale":{"domain":["d","l","g","m","n","s"],"range":["#717171","#c6dff8","#bfc6cd","#92c3ee","#4d9fe2","#1c80d4"]},"legend":null}}},
{"data":{"name":"marks"},"mark":{"type":"rule","color":"#ff0000","opacity":0.45,"strokeWidth":1.5},"encoding":{
"x":{"field":"m","type":"quantitative","scale":{"domain":[36,50],"range":[47.3,587.3],"nice":false,"zero":false},"axis":null},
"y":{"datum":-3.28,"type":"quantitative","scale":{"domain":[0,10],"range":[225,21],"nice":false,"zero":false},"axis":null},
"y2":{"datum":-7.5}}},
{"data":{"name":"marks"},"mark":{"type":"text","fontSize":13,"color":"#ff0000","baseline":"middle"},"encoding":{
"x":{"field":"m","type":"quantitative","scale":{"domain":[36,50],"range":[47.3,587.3],"nice":false,"zero":false},"axis":null},
"y":{"datum":-7.99,"type":"quantitative","scale":{"domain":[0,10],"range":[225,21],"nice":false,"zero":false},"axis":null},
"text":{"field":"t","type":"nominal"}}},
{"data":{"values":[{"s":41.4,"e":47.7}]},"mark":{"type":"rect","color":"#d8d8d8","cornerRadius":3},"encoding":{
"x":{"field":"s","type":"quantitative","scale":{"domain":[41.4,47.7],"range":[42,592],"nice":false,"zero":false},"axis":null},
"x2":{"field":"e"},
"y":{"datum":-9.77,"type":"quantitative","scale":{"domain":[0,10],"range":[225,21],"nice":false,"zero":false},"axis":null},
"y2":{"datum":-10.49}}},
{"data":{"name":"genes"},"mark":{"type":"rect"},"encoding":{
"x":{"field":"s","type":"quantitative","scale":{"domain":[41.4,47.7],"range":[42,592],"nice":false,"zero":false},"axis":null},
"x2":{"field":"e"},
"y":{"field":"t","type":"ordinal","scale":{"type":"band","domain":["u","l"],"range":[424,439],"paddingInner":0.5,"paddingOuter":0.1},"axis":null},
"color":{"condition":{"test":"datum.h","value":"#ff0000"},"value":"#3a3a3a"}}},
{"data":{"values":[{"h":"RASGRP2","s":43.52}]},"mark":{"type":"text","fontSize":16.5,"angle":-40,"color":"#ff0000","baseline":"middle","align":"center"},"encoding":{
"x":{"field":"s","type":"quantitative","scale":{"domain":[41.4,47.7],"range":[42,592],"nice":false,"zero":false},"axis":null},
"y":{"datum":-12,"type":"quantitative","scale":{"domain":[0,10],"range":[225,21],"nice":false,"zero":false},"axis":null},
"text":{"field":"h","type":"nominal"}}}
],
"resolve":{"scale":{"x":"independent","y":"independent","color":"independent"},"axis":{"x":"independent","y":"independent"}}}
